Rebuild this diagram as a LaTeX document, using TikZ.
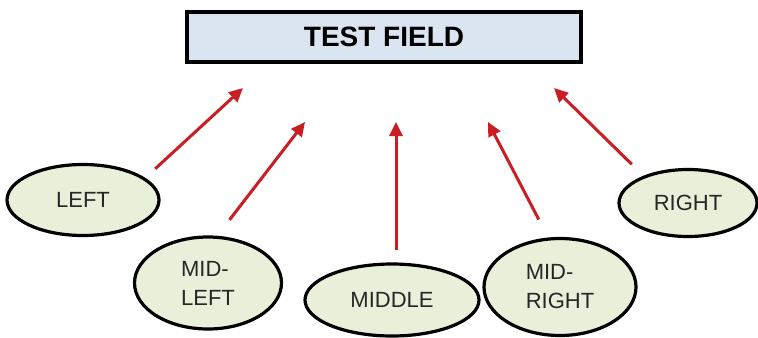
\documentclass[tikz,border=0pt]{standalone}
\usepackage{fontspec}
\setmainfont{Liberation Sans}
\usetikzlibrary{arrows.meta}
\usetikzlibrary{shapes.geometric}
\definecolor{fieldblue}{RGB}{219,228,241}
\definecolor{spotgreen}{RGB}{233,240,218}
\definecolor{aimred}{RGB}{200,30,36}
\tikzset{
spot/.style={ellipse, draw, line width=1.6pt, fill=spotgreen, inner sep=0pt, outer sep=0pt,
  font=\fontsize{11}{14.5}\selectfont, text=black!85, align=left},
feed/.style={draw=aimred, line width=1.5pt, -{Triangle[length=7pt,width=6.5pt]}}
}

\begin{document}
\begin{tikzpicture}[x=0.5pt,y=-0.5pt]
\useasboundingbox (0,0) rectangle (758,337);
\node [rectangle, draw, line width=2pt, fill=fieldblue, minimum width=197pt, minimum height=25pt,
  font=\bfseries\fontsize{14}{16}\selectfont] (field) at (384,37) {TEST FIELD};

\node [spot, minimum width=76pt, minimum height=35.5pt] (left) at (83,200) {LEFT};
\node [spot, minimum width=73.5pt, minimum height=46pt] (midleft) at (208,283) {MID-\\LEFT};
\node [spot, minimum width=87pt, minimum height=36pt] (middle) at (392,300) {MIDDLE};
\node [spot, minimum width=76pt, minimum height=48.5pt] (midright) at (560,287) {MID-\\RIGHT};
\node [spot, minimum width=69pt, minimum height=33.5pt] (right) at (688,203) {RIGHT};

% where the arrows point, just under the field
\coordinate (aimL) at (243,88);
\coordinate (aimML) at (305,122);
\coordinate (aimM) at (396,122);
\coordinate (aimMR) at (488,122);
\coordinate (aimR) at (554,88);

\draw [feed, shorten <=7.5pt] (left.19) -- (aimL);
\draw [feed, shorten <=11pt] (midleft.80) -- (aimML);
\draw [feed, shorten <=7pt] (middle.north -| aimM) -- (aimM);
\draw [feed, shorten <=11pt] (midright.103) -- (aimMR);
\draw [feed, shorten <=9pt] (right.149) -- (aimR);
\end{tikzpicture}
\end{document}
